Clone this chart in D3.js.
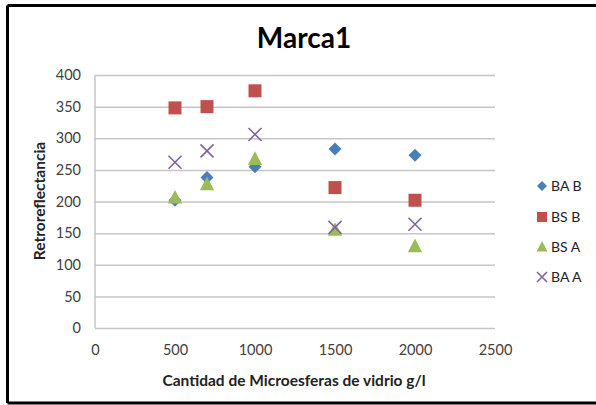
<!DOCTYPE html>
<html><head><meta charset="utf-8">
<script src="https://cdn.jsdelivr.net/npm/d3@7"></script>
<style>body{margin:0;background:#fff}svg{display:block}text{font-family:Lato,"Open Sans",sans-serif}</style>
</head><body><svg id="c" width="596" height="405"></svg>
<script>
const xValues = [500, 700, 1000, 1500, 2000];
const seriesNames = ["BA B", "BS B", "BS A", "BA A"];
const baB = [202, 238, 255, 283, 273];
const bsB = [348, 350, 375, 222, 202];
const bsA = [206, 227, 267, 155, 129];
const baA = [262, 280, 306, 159, 164];
const yTicks = [0, 50, 100, 150, 200, 250, 300, 350, 400];
const xTicks = [0, 500, 1000, 1500, 2000, 2500];
const colors = ["#4A7EBB", "#C0504D", "#9BBB59", "#8064A2"];
const shapes = ["diamond", "square", "triangle", "cross"];

const svg = d3.select("#c");
// outer border
svg.append("path").attr("d","M7.5,5.5 H596 M7.5,5.5 V403 M7.5,403 H596")
  .attr("fill","none").attr("stroke","#000").attr("stroke-width",3);

const x = d3.scaleLinear().domain([0,2500]).range([95,495]);
const y = d3.scaleLinear().domain([0,400]).range([328,75]);

svg.append("text").attr("x",304).attr("y",48).attr("text-anchor","middle")
  .attr("font-size",28).attr("font-weight","bold").text("Marca1");

// gridlines
const yAxis = d3.axisLeft(y).tickValues(yTicks).tickSize(-400).tickPadding(14).tickFormat(d3.format("d"));
const gy = svg.append("g").attr("transform","translate(95,0)").call(yAxis);
gy.select(".domain").remove();
gy.selectAll("line").attr("stroke","#c6c6c6").attr("stroke-width",1.5);
gy.selectAll("text").attr("font-size",14.5).attr("fill","#404040");
svg.append("line").attr("x1",95).attr("x2",95).attr("y1",75).attr("y2",328)
  .attr("stroke","#c6c6c6").attr("stroke-width",1.5);

const xAxis = d3.axisBottom(x).tickValues(xTicks).tickSize(0).tickPadding(17).tickFormat(d3.format("d"));
const gx = svg.append("g").attr("transform","translate(0,328)").call(xAxis);
gx.select(".domain").remove();
gx.selectAll("text").attr("font-size",14.5).attr("fill","#404040");

svg.append("text").attr("x",294).attr("y",386).attr("text-anchor","middle")
  .attr("font-size",15.5).attr("font-weight","bold").attr("fill","#222").text("Cantidad de Microesferas de vidrio g/l");
svg.append("text").attr("transform","translate(45,201) rotate(-90)").attr("text-anchor","middle")
  .attr("font-size",15.5).attr("font-weight","bold").attr("fill","#222").text("Retroreflectancia");

function marker(g, shape, color, s){
  if(shape==="diamond") g.append("path").attr("d",`M0,${-s/2}L${s/2},0L0,${s/2}L${-s/2},0Z`).attr("fill",color);
  else if(shape==="square") g.append("rect").attr("x",-s/2).attr("y",-s/2).attr("width",s).attr("height",s).attr("fill",color);
  else if(shape==="triangle") g.append("path").attr("d",`M0,${-s*0.6}L${s*0.55},${s*0.45}L${-s*0.55},${s*0.45}Z`).attr("fill",color);
  else g.append("path").attr("d",`M${-s/2},${-s/2}L${s/2},${s/2}M${s/2},${-s/2}L${-s/2},${s/2}`).attr("stroke",color).attr("stroke-width",1.6).attr("fill","none");
}

const allSeries = [baB, bsB, bsA, baA];
allSeries.forEach((vals,i)=>{
  vals.forEach((v,j)=>{
    const g = svg.append("g").attr("transform",`translate(${x(xValues[j])},${y(v)})`);
    marker(g, shapes[i], colors[i], 13);
  });
});

const legY = [186, 217, 247, 277];
seriesNames.forEach((n,i)=>{
  const g = svg.append("g").attr("transform",`translate(542,${legY[i]})`);
  marker(g, shapes[i], colors[i], 10);
  g.append("text").attr("x",9).attr("y",5).attr("font-size",14).attr("fill","#222").text(n);
});
</script></body></html>
